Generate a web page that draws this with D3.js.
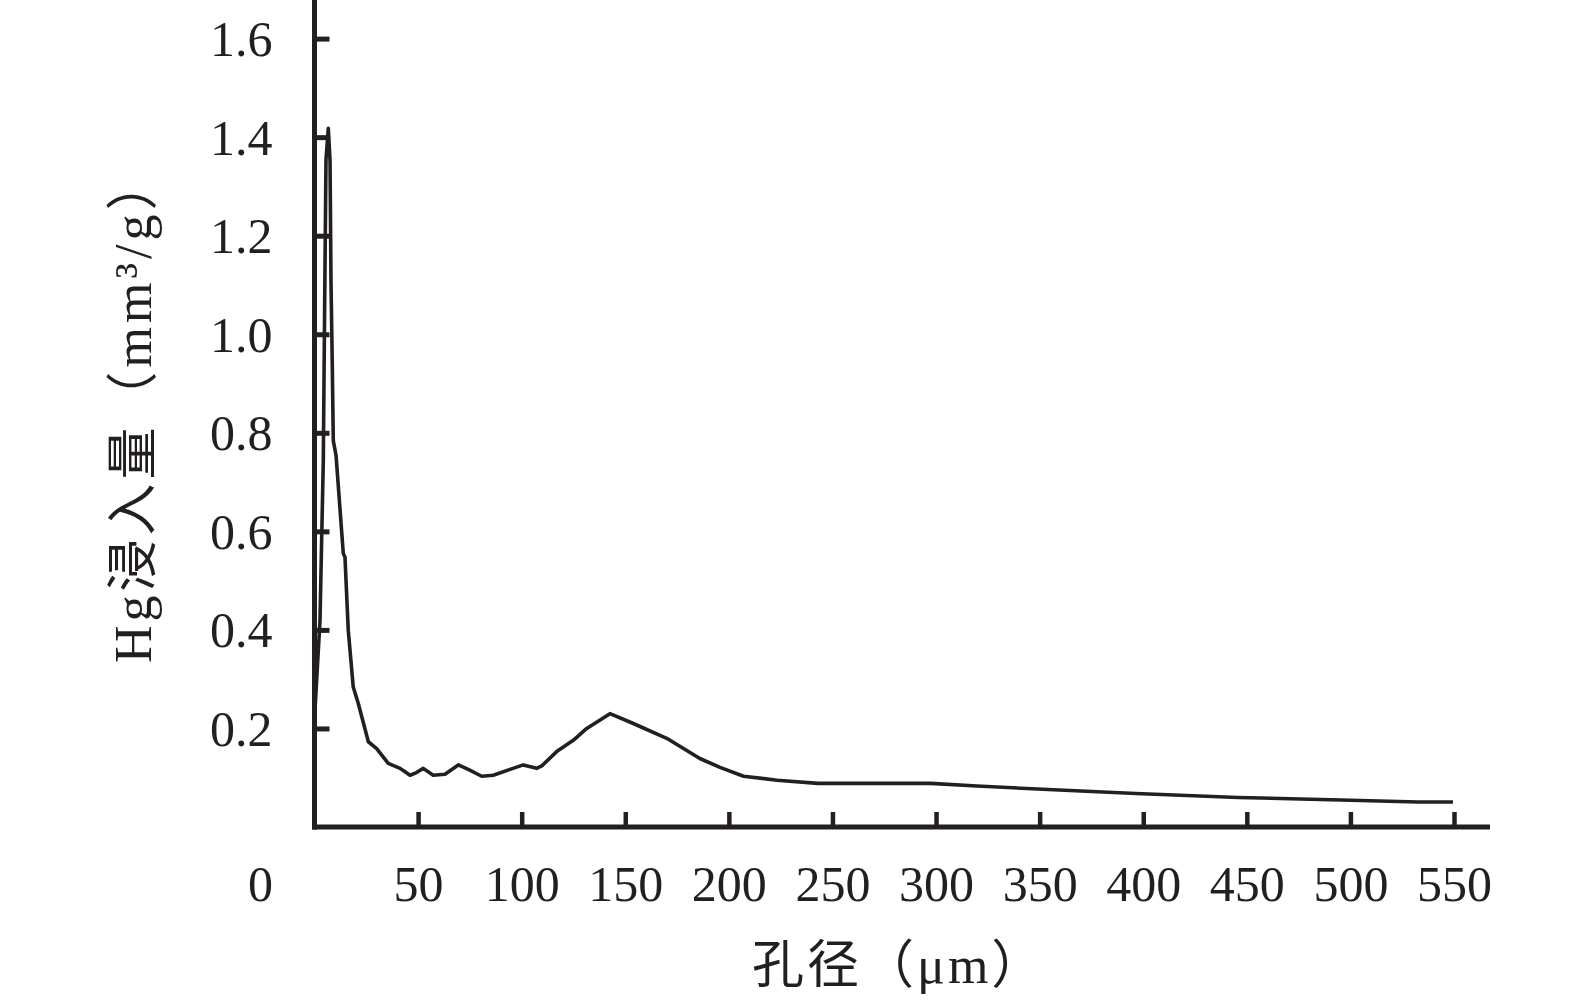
<!DOCTYPE html>
<html>
<head>
<meta charset="utf-8">
<script src="https://cdn.jsdelivr.net/npm/d3@7"></script>
<style>
  html, body { margin: 0; padding: 0; background: #fff; }
  svg { display: block; }
  text { font-family: "Liberation Serif", "Noto Sans CJK SC", serif; fill: #231f20; }
</style>
</head>
<body>
<svg id="chart" width="1575" height="1006"></svg>
<script>
// ---- data ----
const poreSize = [0, 1.2, 2.65, 4.25, 5.07, 5.55, 6.66, 7.5, 7.96, 8.6, 9.07, 10.4, 13.9, 14.7, 16.3, 18.7, 21.1, 26.0, 30.0, 35.6, 41.3, 43.7, 46.1, 49.0, 52.5, 57.3, 63.0, 69.4, 74.2, 80.7, 86.3, 94.4, 100.8, 107.2, 109.7, 116.9, 124.9, 131.4, 142.6, 153.9, 170.0, 186.0, 195.7, 207.1, 223.2, 243.0, 297.4, 319.7, 359.3, 396.5, 445.7, 495.4, 532.6, 549.5];
const hgIntrusion = [0.22, 0.31, 0.419, 0.744, 1.139, 1.355, 1.418, 1.352, 1.108, 0.933, 0.784, 0.754, 0.555, 0.548, 0.399, 0.284, 0.251, 0.173, 0.159, 0.129, 0.119, 0.112, 0.105, 0.110, 0.119, 0.105, 0.107, 0.126, 0.117, 0.103, 0.105, 0.117, 0.126, 0.119, 0.124, 0.153, 0.176, 0.200, 0.230, 0.210, 0.180, 0.139, 0.121, 0.103, 0.095, 0.0886, 0.0886, 0.0831, 0.075, 0.068, 0.060, 0.0547, 0.0507, 0.0507];
const xTicks = [50, 100, 150, 200, 250, 300, 350, 400, 450, 500, 550];
const yTicks = [0.2, 0.4, 0.6, 0.8, 1.0, 1.2, 1.4, 1.6];
const originLabel = "0";
const xTitle = "孔径（μm）";
const yTitle = "Hg浸入量（mm³/g）";

// ---- layout ----
const ink = "#231f20";
const x0 = 314.5, x550 = 1454, yZero = 827, y16 = 38.6;
const svg = d3.select("#chart");

const x = d3.scaleLinear().domain([0, 550]).range([x0, x550]);
const y = d3.scaleLinear().domain([0, 1.6]).range([yZero, y16]);

// axis lines
svg.append("line").attr("x1", x0).attr("x2", x0).attr("y1", yZero + 2.5).attr("y2", 0)
  .attr("stroke", ink).attr("stroke-width", 5);
svg.append("line").attr("x1", x0 - 2.5).attr("x2", 1490).attr("y1", yZero).attr("y2", yZero)
  .attr("stroke", ink).attr("stroke-width", 5);

// y axis ticks/labels
const yAxis = d3.axisLeft(y).tickValues(yTicks).tickFormat(d3.format(".1f"))
  .tickSizeInner(-15).tickSizeOuter(0).tickPadding(42);
const gy = svg.append("g").attr("transform", `translate(${x0},0)`).call(yAxis);
gy.select(".domain").remove();
gy.selectAll(".tick line").attr("stroke", ink).attr("stroke-width", 5);
gy.selectAll(".tick text").attr("font-size", 50).attr("dy", "0.34em")
  .style("font-family", "'Liberation Serif', serif").attr("fill", ink);

// x axis ticks/labels
const xAxis = d3.axisBottom(x).tickValues(xTicks).tickFormat(d3.format("d"))
  .tickSizeInner(-15).tickSizeOuter(0).tickPadding(38);
const gx = svg.append("g").attr("transform", `translate(0,${yZero})`).call(xAxis);
gx.select(".domain").remove();
gx.selectAll(".tick line").attr("stroke", ink).attr("stroke-width", 4.5);
gx.selectAll(".tick text").attr("font-size", 50).attr("dy", "0.71em")
  .style("font-family", "'Liberation Serif', serif").attr("fill", ink);

// origin label
svg.append("text").attr("x", 273).attr("y", 901).attr("text-anchor", "end")
  .attr("font-size", 50).text(originLabel);

// curve
const line = d3.line().x((d, i) => x(poreSize[i])).y(d => y(d)).curve(d3.curveLinear);
svg.append("path").datum(hgIntrusion).attr("d", line)
  .attr("fill", "none").attr("stroke", ink).attr("stroke-width", 3.6)
  .attr("stroke-linejoin", "round").attr("stroke-linecap", "butt");

// titles
svg.append("text").attr("x", 752).attr("y", 983).attr("text-anchor", "start")
  .attr("font-size", 52).attr("letter-spacing", 3).text(xTitle);
svg.append("text").attr("transform", "translate(151,663) rotate(-90)")
  .attr("text-anchor", "start").attr("font-size", 52).attr("letter-spacing", 4).text(yTitle);
</script>
</body>
</html>
